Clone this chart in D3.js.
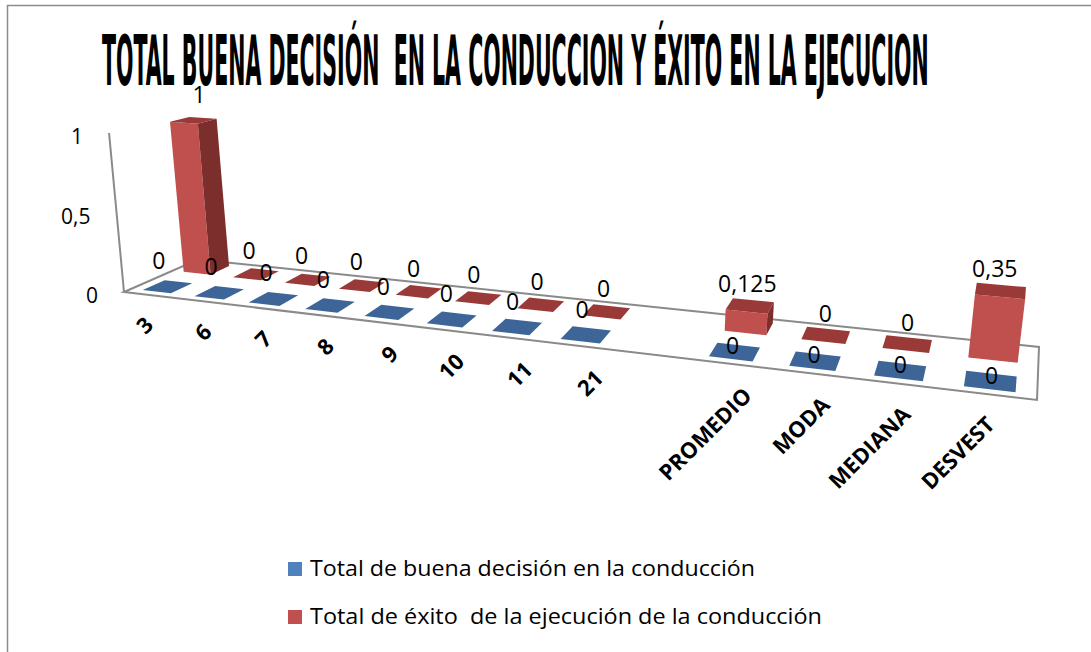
<!DOCTYPE html>
<html>
<head>
<meta charset="utf-8">
<script src="https://cdn.jsdelivr.net/npm/d3@7"></script>
<style>
  body { margin: 0; background: #fff; }
  text { white-space: pre; }
</style>
</head>
<body>
<div id="chart"></div>
<script>
// Chart data. The empty category is the gap Excel left between the
// raw values and the summary statistics.
var categories = ["3", "6", "7", "8", "9", "10", "11", "21", "", "PROMEDIO", "MODA", "MEDIANA", "DESVEST"];
var decisionValues = [0, 0, 0, 0, 0, 0, 0, 0, null, 0, 0, 0, 0];
var exitoValues = [1, 0, 0, 0, 0, 0, 0, 0, null, 0.125, 0, 0, 0.35];
var seriesNames = ["Total de buena decisión en la conducción", "Total de éxito  de la ejecución de la conducción"];
var yTicks = [0, 0.5, 1];

var title = "TOTAL BUENA DECISIÓN  EN LA CONDUCCION Y ÉXITO EN LA EJECUCION";

var W = 1091, H = 652;

// Floor corners of the 3d plot area (front-left, front-right, back-right, back-left).
var FL = [124, 292], FR = [1037, 400], BR = [1039, 347], BL = [198, 259.5];

var locale = d3.formatLocale({decimal: ",", thousands: ".", grouping: [3], currency: ["", " €"]});
var fmt = locale.format("~g");

var svg = d3.select("#chart").append("svg")
    .attr("width", W)
    .attr("height", H)
    .style("font-family", "'Open Sans', 'Liberation Sans', sans-serif");

// Category position across the floor, 0..1.
var x = d3.scaleBand()
    .domain(d3.range(categories.length))
    .range([0, 1])
    .paddingInner(0.45)
    .paddingOuter(0.225);

// Height in pixels at the front-left corner.
var y = d3.scaleLinear().domain([0, 1]).range([0, 159]);

// Perspective squeeze along the category direction.
function warp(u, k) {
    return u * (1 + k) / (1 + k * u);
}

// Bilinear point on the floor, t across, d into the depth.
function floorPoint(t, d) {
    return [
        (1 - t) * (1 - d) * FL[0] + t * (1 - d) * FR[0] + (1 - t) * d * BL[0] + t * d * BR[0],
        (1 - t) * (1 - d) * FL[1] + t * (1 - d) * FR[1] + (1 - t) * d * BL[1] + t * d * BR[1]
    ];
}

// Projects a point with a value height into the picture.
function project(t, d, v) {
    var p = floorPoint(t, d),
        s = y(v) * (1 + 0.22 * t) * (1 - 0.09 * d),
        lean = -0.094 + 0.217 * t;
    return [p[0] + lean * s, p[1] - s];
}

function area(pts) {
    var a = 0;
    for (var i = 0; i < pts.length; i++) {
        var p = pts[i], q = pts[(i + 1) % pts.length];
        a += p[0] * q[1] - q[0] * p[1];
    }
    return a / 2;
}

// Outer border.
svg.append("rect")
    .attr("x", 7.5).attr("y", 5.5)
    .attr("width", 1100).attr("height", 660)
    .attr("fill", "none")
    .attr("stroke", "#8c8c8c")
    .attr("stroke-width", 1.5);

// Title, squeezed horizontally to the width of the original.
var titleText = svg.append("text")
    .style("font-family", "'DejaVu Sans Condensed', 'DejaVu Sans', sans-serif")
    .style("font-stretch", "condensed")
    .style("font-weight", "bold")
    .style("font-size", "69px")
    .attr("fill", "#000")
    .text(title);
var titleWidth = titleText.node().getComputedTextLength();
titleText.attr("transform", "translate(102,85) scale(" + (827 / titleWidth) + ",1)");

// Floor and value axis.
svg.append("polygon")
    .attr("points", [FL, FR, BR, BL].map(function(p) { return p.join(","); }).join(" "))
    .attr("fill", "none")
    .attr("stroke", "#8a8a8a")
    .attr("stroke-width", 2);

var a0 = project(0, 0, 0), a1 = project(0, 0, 1);
svg.append("line")
    .attr("x1", a0[0]).attr("y1", a0[1])
    .attr("x2", a1[0]).attr("y2", a1[1])
    .attr("stroke", "#8a8a8a")
    .attr("stroke-width", 2);

svg.selectAll("text.ytick").data(yTicks)
  .enter().append("text")
    .attr("class", "ytick")
    .attr("x", function(d) { return project(0, 0, d)[0] - 26; })
    .attr("y", function(d) { return project(0, 0, d)[1] + 3; })
    .attr("text-anchor", "end")
    .attr("dominant-baseline", "central")
    .style("font-size", "21px")
    .text(function(d) { return fmt(d); });

// Series, back row first.
var gap = categories.indexOf("");
var series = [
    {name: seriesNames[1], values: exitoValues, d0: 0.66, d1: 0.92,
     front: "#c0504d", top: "#9a3a38", side: "#7c2e2c", lift: function(i) { return 20; }},
    {name: seriesNames[0], values: decisionValues, d0: 0.10, d1: 0.40,
     front: "#4f81bd", top: "#3d6597", side: "#2f5079", lift: function(i) { return i > gap ? 5 : 23; }}
];

var kBar = -0.28, kLabel = -0.192;

series.forEach(function(s) {
    var bars = [];
    s.values.forEach(function(v, i) {
        if(v == null) return;
        bars.push({i: i, v: v,
            t0: warp(x(i), kBar),
            t1: warp(x(i) + x.bandwidth(), kBar),
            tc: warp(x(i) + x.bandwidth() / 2, kBar)});
    });

    var g = svg.append("g").attr("class", "series");
    bars.forEach(function(b) {
        var t0 = b.t0, t1 = b.t1, d0 = s.d0, d1 = s.d1, v = b.v;
        var c = project;
        var faces = [
            {fill: s.front, pts: [c(t0, d0, 0), c(t1, d0, 0), c(t1, d0, v), c(t0, d0, v)]},
            {fill: s.front, pts: [c(t0, d1, 0), c(t0, d1, v), c(t1, d1, v), c(t1, d1, 0)]},
            {fill: s.top, pts: [c(t0, d0, v), c(t1, d0, v), c(t1, d1, v), c(t0, d1, v)]},
            {fill: s.top, pts: [c(t0, d0, 0), c(t0, d1, 0), c(t1, d1, 0), c(t1, d0, 0)]},
            {fill: s.side, pts: [c(t1, d0, 0), c(t1, d1, 0), c(t1, d1, v), c(t1, d0, v)]},
            {fill: s.side, pts: [c(t0, d0, 0), c(t0, d0, v), c(t0, d1, v), c(t0, d1, 0)]}
        ];
        g.selectAll(null).data(faces.filter(function(f) { return area(f.pts) < -0.5; }))
          .enter().append("polygon")
            .attr("points", function(f) { return f.pts.map(function(p) { return p.join(","); }).join(" "); })
            .attr("fill", function(f) { return f.fill; });
    });
    s.bars = bars;
});

// Data labels on top of everything.
series.forEach(function(s) {
    svg.selectAll(null).data(s.bars)
      .enter().append("text")
        .attr("x", function(b) { return floorPoint(b.tc, s.d0)[0] + 2; })
        .attr("y", function(b) { return project(b.tc, s.d0, b.v)[1] - s.lift(b.i); })
        .attr("text-anchor", "middle")
        .style("font-size", "23px")
        .text(function(b) { return fmt(b.v); });
});

// Category labels along the front edge.
svg.selectAll("text.cat").data(categories)
  .enter().append("text")
    .attr("class", "cat")
    .attr("transform", function(d, i) {
        var p = floorPoint(warp(x(i) + x.bandwidth() / 2, kLabel), 0);
        return "translate(" + (p[0] + 2) + "," + (p[1] + 31) + ") rotate(-45)";
    })
    .attr("text-anchor", "end")
    .style("font-size", "22px")
    .style("font-weight", "bold")
    .text(function(d) { return d; });

// Legend.
var legend = svg.append("g").attr("class", "legend");
var legendItems = [
    {name: seriesNames[0], color: "#4f81bd", width: 445},
    {name: seriesNames[1], color: "#c0504d", width: 512}
];
legend.selectAll("rect").data(legendItems)
  .enter().append("rect")
    .attr("x", 288)
    .attr("y", function(d, i) { return 562 + i * 48; })
    .attr("width", 14)
    .attr("height", 14)
    .attr("fill", function(d) { return d.color; });
legend.selectAll("text").data(legendItems)
  .enter().append("text")
    .attr("x", 310)
    .attr("y", function(d, i) { return 576 + i * 48; })
    .attr("textLength", function(d) { return d.width; })
    .attr("lengthAdjust", "spacingAndGlyphs")
    .style("font-size", "21px")
    .text(function(d) { return d.name; });
</script>
</body>
</html>
